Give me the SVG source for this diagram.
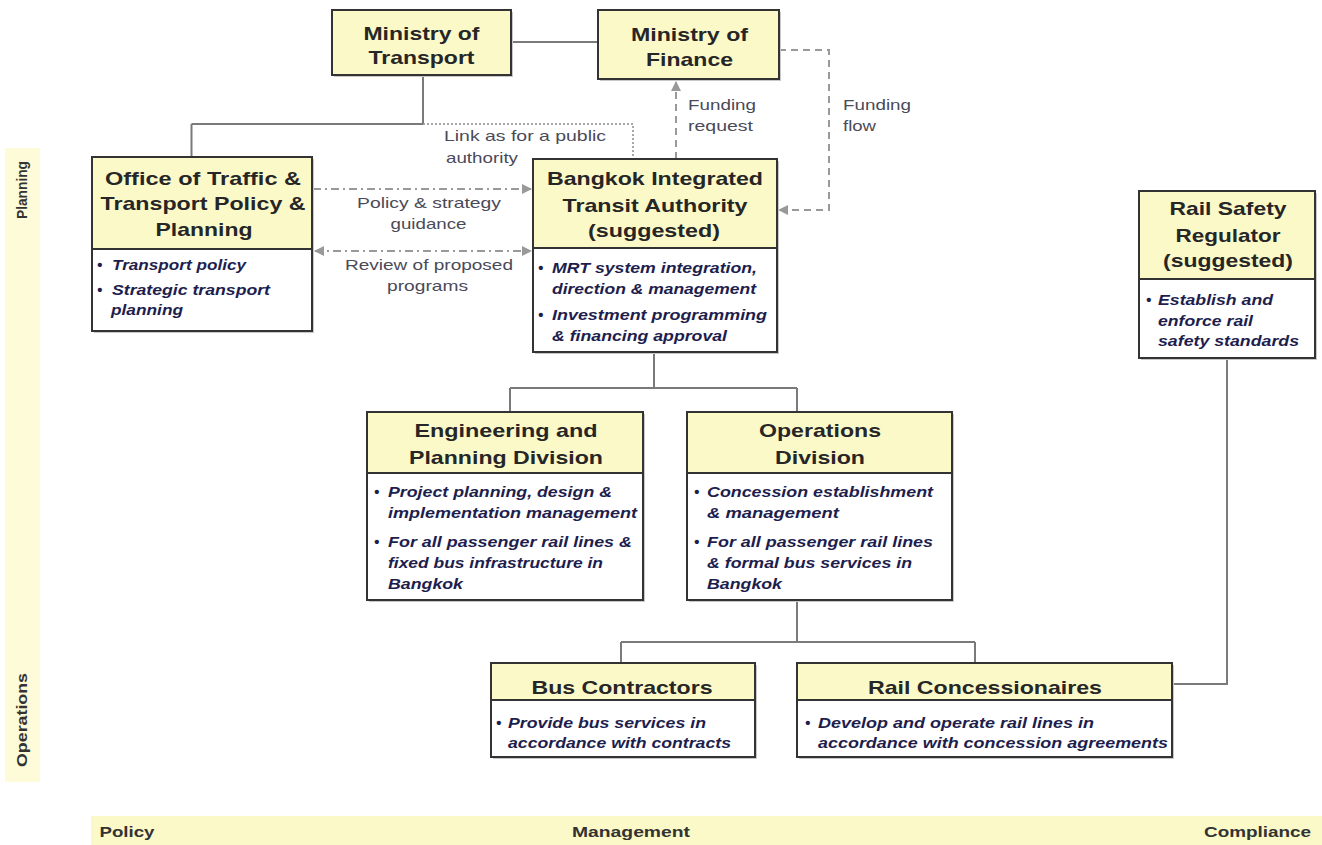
<svg xmlns="http://www.w3.org/2000/svg" width="1322" height="845" viewBox="0 0 1322 845">
<style>
.hd{fill:#fcf9c8;stroke:#333;stroke-width:2}
.bd{fill:#fff;stroke:#333;stroke-width:2}
.sh{fill:#c8c8c8}
.t{font-family:"Liberation Sans",Arial,sans-serif;font-weight:bold;font-size:19px;fill:#262626;text-anchor:middle}
.b{font-family:"Liberation Sans",Arial,sans-serif;font-weight:bold;font-style:italic;font-size:15px;fill:#1e1e4e}
.lb{font-family:"Liberation Sans",Arial,sans-serif;font-size:15px;fill:#4a4a58}
.ax{font-family:"Liberation Sans",Arial,sans-serif;font-weight:bold;font-size:14px;fill:#333}
.ln{fill:none;stroke:#7a7a7a;stroke-width:2}
.dot{fill:none;stroke:#8a8a8a;stroke-width:1.5;stroke-dasharray:2 2}
.dsh{fill:none;stroke:#999;stroke-width:2;stroke-dasharray:7 5}
.dd{fill:none;stroke:#999;stroke-width:2;stroke-dasharray:8 4 2 4}
</style>
<defs>
<marker id="ah" viewBox="0 0 10 10" refX="9" refY="5" markerWidth="5" markerHeight="5" orient="auto-start-reverse">
<path d="M0,0 L10,5 L0,10 z" fill="#999"/>
</marker>
</defs>
<rect width="1322" height="845" fill="#fff"/>
<g id="bands">
<rect x="5" y="148" width="35" height="634" fill="#fdfbd8"/>
<rect x="91" y="816" width="1231" height="29" fill="#fcf9c8"/>
<text class="ax" transform="translate(27,190) rotate(-90)" text-anchor="middle" textLength="58" lengthAdjust="spacingAndGlyphs">Planning</text>
<text class="ax" transform="translate(27,720) rotate(-90)" text-anchor="middle" textLength="94" lengthAdjust="spacingAndGlyphs">Operations</text>
<text class="ax" x="99.5" y="837" textLength="55" lengthAdjust="spacingAndGlyphs">Policy</text>
<text class="ax" x="572" y="837" textLength="118" lengthAdjust="spacingAndGlyphs">Management</text>
<text class="ax" x="1204" y="837" textLength="107" lengthAdjust="spacingAndGlyphs">Compliance</text>
</g>
<g id="connectors">
<path class="ln" d="M511,42 H598"/>
<path class="ln" d="M423,75 V124 M191.5,124 H423 M191.5,124 V157"/>
<path class="dot" d="M423,124 H633 V159"/>
<path class="dsh" d="M676,159 V82" marker-end="url(#ah)"/>
<path class="dsh" d="M779,50 H829 V210 H779" marker-end="url(#ah)"/>
<path class="dd" d="M313,189 H531" marker-end="url(#ah)"/>
<path class="dd" d="M315,251 H531" marker-start="url(#ah)" marker-end="url(#ah)"/>
<path class="ln" d="M654,352 V388 M510,388 H797 M510,388 V412 M797,388 V412"/>
<path class="ln" d="M797,600 V642 M621,642 H975 M621,642 V663 M975,642 V663"/>
<path class="ln" d="M1227,358 V684 H1172"/>
<text class="lb" x="444" y="141" textLength="162" lengthAdjust="spacingAndGlyphs">Link as for a public</text>
<text class="lb" x="446" y="163" textLength="72" lengthAdjust="spacingAndGlyphs">authority</text>
<text class="lb" x="357" y="208" textLength="144" lengthAdjust="spacingAndGlyphs">Policy &amp; strategy</text>
<text class="lb" x="390.5" y="229" textLength="76" lengthAdjust="spacingAndGlyphs">guidance</text>
<text class="lb" x="345" y="270" textLength="168" lengthAdjust="spacingAndGlyphs">Review of proposed</text>
<text class="lb" x="387" y="291" textLength="81" lengthAdjust="spacingAndGlyphs">programs</text>
<text class="lb" x="688" y="110" textLength="68" lengthAdjust="spacingAndGlyphs">Funding</text>
<text class="lb" x="688" y="131" textLength="65" lengthAdjust="spacingAndGlyphs">request</text>
<text class="lb" x="843" y="110" textLength="68" lengthAdjust="spacingAndGlyphs">Funding</text>
<text class="lb" x="843" y="131" textLength="33" lengthAdjust="spacingAndGlyphs">flow</text>
</g>
<g id="mot">
<rect class="sh" x="334" y="12" width="179" height="65"/>
<rect class="hd" x="332" y="10" width="179" height="65"/>
<text class="t" x="421.5" y="40" textLength="116" lengthAdjust="spacingAndGlyphs">Ministry of</text>
<text class="t" x="421.5" y="64" textLength="106" lengthAdjust="spacingAndGlyphs">Transport</text>
</g>
<g id="mof">
<rect class="sh" x="600" y="12" width="181" height="69"/>
<rect class="hd" x="598" y="10" width="181" height="69"/>
<text class="t" x="689.5" y="41" textLength="117" lengthAdjust="spacingAndGlyphs">Ministry of</text>
<text class="t" x="689.5" y="66" textLength="87" lengthAdjust="spacingAndGlyphs">Finance</text>
</g>
<g id="ottp">
<rect class="sh" x="94" y="159" width="220" height="174"/>
<rect class="hd" x="92" y="157" width="220" height="92"/>
<rect class="bd" x="92" y="249" width="220" height="82"/>
<text class="t" x="203" y="185" textLength="196" lengthAdjust="spacingAndGlyphs">Office of Traffic &amp;</text>
<text class="t" x="203" y="210" textLength="205" lengthAdjust="spacingAndGlyphs">Transport Policy &amp;</text>
<text class="t" x="204" y="236" textLength="97" lengthAdjust="spacingAndGlyphs">Planning</text>
<text class="b" x="97" y="270">•</text>
<text class="b" x="112" y="270" textLength="134" lengthAdjust="spacingAndGlyphs">Transport policy</text>
<text class="b" x="97" y="295">•</text>
<text class="b" x="112" y="295" textLength="158" lengthAdjust="spacingAndGlyphs">Strategic transport</text>
<text class="b" x="111" y="315" textLength="72" lengthAdjust="spacingAndGlyphs">planning</text>
</g>
<g id="bita">
<rect class="sh" x="535" y="161" width="244" height="193"/>
<rect class="hd" x="533" y="159" width="244" height="89"/>
<rect class="bd" x="533" y="248" width="244" height="104"/>
<text class="t" x="655" y="185" textLength="216" lengthAdjust="spacingAndGlyphs">Bangkok Integrated</text>
<text class="t" x="655" y="212" textLength="185" lengthAdjust="spacingAndGlyphs">Transit Authority</text>
<text class="t" x="654" y="237" textLength="132" lengthAdjust="spacingAndGlyphs">(suggested)</text>
<text class="b" x="538" y="273">•</text>
<text class="b" x="552" y="273" textLength="205" lengthAdjust="spacingAndGlyphs">MRT system integration,</text>
<text class="b" x="552" y="294" textLength="204" lengthAdjust="spacingAndGlyphs">direction &amp; management</text>
<text class="b" x="538" y="320">•</text>
<text class="b" x="552" y="320" textLength="215" lengthAdjust="spacingAndGlyphs">Investment programming</text>
<text class="b" x="552" y="341" textLength="175" lengthAdjust="spacingAndGlyphs">&amp; financing approval</text>
</g>
<g id="rsr">
<rect class="sh" x="1141" y="193" width="176" height="167"/>
<rect class="hd" x="1139" y="191" width="176" height="88"/>
<rect class="bd" x="1139" y="279" width="176" height="79"/>
<text class="t" x="1228" y="215" textLength="117" lengthAdjust="spacingAndGlyphs">Rail Safety</text>
<text class="t" x="1228" y="242" textLength="105" lengthAdjust="spacingAndGlyphs">Regulator</text>
<text class="t" x="1228" y="267" textLength="130" lengthAdjust="spacingAndGlyphs">(suggested)</text>
<text class="b" x="1146" y="305">•</text>
<text class="b" x="1158" y="305" textLength="115" lengthAdjust="spacingAndGlyphs">Establish and</text>
<text class="b" x="1158" y="326" textLength="95" lengthAdjust="spacingAndGlyphs">enforce rail</text>
<text class="b" x="1158" y="346" textLength="141" lengthAdjust="spacingAndGlyphs">safety standards</text>
</g>
<g id="epd">
<rect class="sh" x="369" y="414" width="276" height="188"/>
<rect class="hd" x="367" y="412" width="276" height="61"/>
<rect class="bd" x="367" y="473" width="276" height="127"/>
<text class="t" x="506" y="437" textLength="183" lengthAdjust="spacingAndGlyphs">Engineering and</text>
<text class="t" x="506" y="464" textLength="194" lengthAdjust="spacingAndGlyphs">Planning Division</text>
<text class="b" x="374" y="497">•</text>
<text class="b" x="388" y="497" textLength="224" lengthAdjust="spacingAndGlyphs">Project planning, design &amp;</text>
<text class="b" x="388" y="518" textLength="249" lengthAdjust="spacingAndGlyphs">implementation management</text>
<text class="b" x="374" y="547">•</text>
<text class="b" x="388" y="547" textLength="244" lengthAdjust="spacingAndGlyphs">For all passenger rail lines &amp;</text>
<text class="b" x="388" y="568" textLength="215" lengthAdjust="spacingAndGlyphs">fixed bus infrastructure in</text>
<text class="b" x="388" y="589" textLength="75" lengthAdjust="spacingAndGlyphs">Bangkok</text>
</g>
<g id="ops">
<rect class="sh" x="689" y="414" width="265" height="188"/>
<rect class="hd" x="687" y="412" width="265" height="61"/>
<rect class="bd" x="687" y="473" width="265" height="127"/>
<text class="t" x="820" y="437" textLength="122" lengthAdjust="spacingAndGlyphs">Operations</text>
<text class="t" x="820" y="464" textLength="90" lengthAdjust="spacingAndGlyphs">Division</text>
<text class="b" x="694" y="497">•</text>
<text class="b" x="707" y="497" textLength="226" lengthAdjust="spacingAndGlyphs">Concession establishment</text>
<text class="b" x="707" y="518" textLength="132" lengthAdjust="spacingAndGlyphs">&amp; management</text>
<text class="b" x="694" y="547">•</text>
<text class="b" x="707" y="547" textLength="226" lengthAdjust="spacingAndGlyphs">For all passenger rail lines</text>
<text class="b" x="707" y="568" textLength="205" lengthAdjust="spacingAndGlyphs">&amp; formal bus services in</text>
<text class="b" x="707" y="589" textLength="75" lengthAdjust="spacingAndGlyphs">Bangkok</text>
</g>
<g id="bus">
<rect class="sh" x="493" y="665" width="264" height="94"/>
<rect class="hd" x="491" y="663" width="264" height="37"/>
<rect class="bd" x="491" y="700" width="264" height="57"/>
<text class="t" x="622" y="694" textLength="181" lengthAdjust="spacingAndGlyphs">Bus Contractors</text>
<text class="b" x="496" y="728">•</text>
<text class="b" x="508" y="728" textLength="198" lengthAdjust="spacingAndGlyphs">Provide bus services in</text>
<text class="b" x="508" y="748" textLength="223" lengthAdjust="spacingAndGlyphs">accordance with contracts</text>
</g>
<g id="rail">
<rect class="sh" x="799" y="665" width="375" height="94"/>
<rect class="hd" x="797" y="663" width="375" height="37"/>
<rect class="bd" x="797" y="700" width="375" height="57"/>
<text class="t" x="985" y="694" textLength="234" lengthAdjust="spacingAndGlyphs">Rail Concessionaires</text>
<text class="b" x="805" y="728">•</text>
<text class="b" x="818" y="728" textLength="276" lengthAdjust="spacingAndGlyphs">Develop and operate rail lines in</text>
<text class="b" x="818" y="748" textLength="350" lengthAdjust="spacingAndGlyphs">accordance with concession agreements</text>
</g>
</svg>
